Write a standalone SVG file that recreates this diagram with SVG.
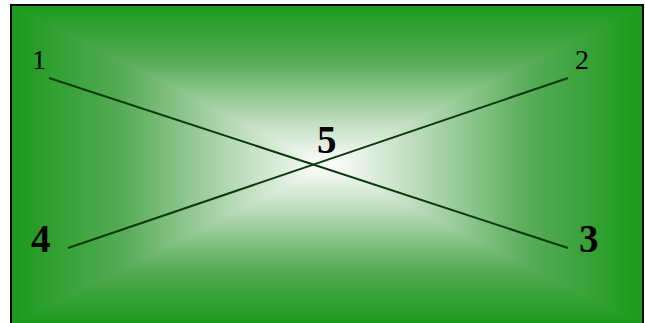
<svg xmlns="http://www.w3.org/2000/svg" width="645" height="323" viewBox="0 0 645 323">
<style>
.edge{stroke:#0b3a0b;stroke-width:2;fill:none}
.lbl{font-family:"Liberation Serif",serif;fill:#000}
.big{font-weight:bold;font-size:39px}
.small{font-size:28px}
</style>
<defs>
<linearGradient id="gV" x1="0" y1="5" x2="0" y2="325" gradientUnits="userSpaceOnUse">
<stop offset="0" stop-color="#1a9a1a"/><stop offset="0.175" stop-color="#55ab55"/><stop offset="0.35" stop-color="#b7d9b7"/><stop offset="0.5" stop-color="#ffffff"/><stop offset="0.65" stop-color="#b7d9b7"/><stop offset="0.825" stop-color="#55ab55"/><stop offset="1" stop-color="#1a9a1a"/>
</linearGradient>
<linearGradient id="gH" x1="11" y1="0" x2="643" y2="0" gradientUnits="userSpaceOnUse">
<stop offset="0" stop-color="#1a9a1a"/><stop offset="0.175" stop-color="#55ab55"/><stop offset="0.35" stop-color="#b7d9b7"/><stop offset="0.5" stop-color="#ffffff"/><stop offset="0.65" stop-color="#b7d9b7"/><stop offset="0.825" stop-color="#55ab55"/><stop offset="1" stop-color="#1a9a1a"/>
</linearGradient>
</defs>
<rect x="0" y="0" width="645" height="323" fill="#ffffff"/>
<g id="background">
<rect x="11" y="5" width="632" height="320" fill="url(#gV)"/>
<polygon points="11,5 11,325 327,165" fill="url(#gH)"/>
<polygon points="643,5 643,325 327,165" fill="url(#gH)"/>
<rect x="11" y="5" width="632" height="320" fill="none" stroke="#000" stroke-width="2"/>
</g>
<g id="connectors">
<line class="edge" x1="49" y1="78" x2="568" y2="248"/>
<line class="edge" x1="68" y1="248" x2="568" y2="78"/>
</g>
<g id="n1"><text class="lbl small" x="32" y="69">1</text></g>
<g id="n2"><text class="lbl small" x="575" y="69">2</text></g>
<g id="n3"><text class="lbl big" x="579" y="252">3</text></g>
<g id="n4"><text class="lbl big" x="31" y="252">4</text></g>
<g id="n5"><text class="lbl big" x="317" y="153">5</text></g>
</svg>
